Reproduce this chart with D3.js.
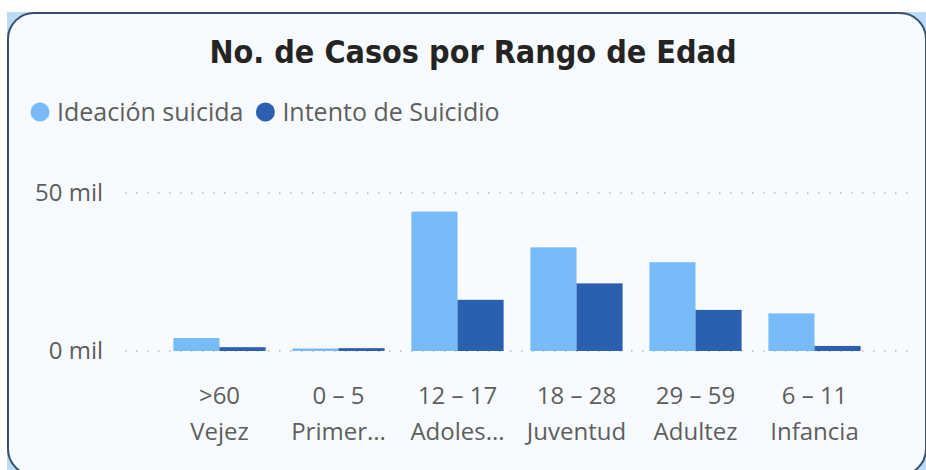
<!DOCTYPE html>
<html>
<head>
<meta charset="utf-8">
<script src="https://cdn.jsdelivr.net/npm/d3@7"></script>
<style>
  body { margin: 0; background: #ffffff; }
  svg { display: block; }
</style>
</head>
<body>
<div id="chart_div"></div>
<script>
// data
const categories = [">60|Vejez", "0 – 5|Primer...", "12 – 17|Adoles...", "18 – 28|Juventud", "29 – 59|Adultez", "6 – 11|Infancia"];
const seriesNames = ["Ideación suicida", "Intento de Suicidio"];
const ideacion = [4100, 800, 44100, 32800, 28100, 11900];
const intento = [1200, 900, 16200, 21400, 13000, 1600];
const yTicks = [0, 50000];
const colors = ["#77bcf8", "#2b5fb0"];

const W = 926, H = 470;
const margin = {top: 193, left: 160, right: 52, bottom: 119};
const labelFont = "'Open Sans', sans-serif";
const labelSize = "24px";

const svg = d3.select("#chart_div")
    .append("svg")
    .attr("width", W)
    .attr("height", H);

// backdrop + card
svg.append("rect")
    .attr("x", 7).attr("y", 12)
    .attr("width", W).attr("height", H)
    .attr("fill", "#bcdcf6");

svg.append("rect")
    .attr("x", 8).attr("y", 13)
    .attr("width", 918).attr("height", 462)
    .attr("rx", 26).attr("ry", 26)
    .attr("fill", "#f7fbff")
    .attr("stroke", "#34506f")
    .attr("stroke-width", 2);

svg.append("text")
    .attr("x", 473)
    .attr("y", 63)
    .attr("text-anchor", "middle")
    .style("font-family", "'DejaVu Sans Condensed', 'DejaVu Sans'")
    .style("font-weight", "bold")
    .style("font-size", "32px")
    .style("fill", "#252423")
    .text("No. de Casos por Rango de Edad");

// legend
const legend = svg.append("g")
    .attr("transform", "translate(40,112)");

let lx = 0;
seriesNames.forEach(function (name, i) {
    const g = legend.append("g").attr("transform", `translate(${lx},0)`);
    g.append("circle")
        .attr("r", 9.5)
        .attr("fill", colors[i]);
    const t = g.append("text")
        .attr("x", 17)
        .attr("dy", "0.35em")
        .style("font-family", labelFont)
        .style("font-size", "25px")
        .style("fill", "#605e5c")
        .text(name);
    lx += 17 + t.node().getComputedTextLength() + 22;
});

// scales
const x = d3.scaleBand()
    .domain(categories)
    .range([margin.left, W - margin.right])
    .paddingInner(0.225)
    .paddingOuter(0.1125);

const xSub = d3.scaleBand()
    .domain(seriesNames)
    .range([0, x.bandwidth()]);

const y = d3.scaleLinear()
    .domain([0, 50000])
    .range([351, 193]);

// grid
svg.append("g")
    .selectAll("line")
    .data(yTicks)
    .join("line")
    .attr("x1", 125)
    .attr("x2", 910)
    .attr("y1", d => y(d))
    .attr("y2", d => y(d))
    .attr("stroke", "#b8b8b8")
    .attr("stroke-width", 1.5)
    .attr("stroke-dasharray", "1.5,9.5");

const yAxis = svg.append("g")
    .attr("transform", "translate(103,0)")
    .call(d3.axisLeft(y).tickValues(yTicks).tickSize(0).tickPadding(0)
        .tickFormat(d => d3.format("d")(d / 1000) + " mil"));
yAxis.select(".domain").remove();
yAxis.selectAll("text")
    .style("font-family", labelFont)
    .style("font-size", labelSize)
    .style("fill", "#605e5c");

// bars
const rows = categories.map((c, i) => ({cat: c, values: [ideacion[i], intento[i]]}));

svg.append("g")
    .selectAll("g")
    .data(rows)
    .join("g")
    .attr("transform", d => `translate(${x(d.cat)},0)`)
    .selectAll("rect")
    .data(d => d.values.map((v, j) => ({key: seriesNames[j], value: v, j: j})))
    .join("rect")
    .attr("x", d => xSub(d.key))
    .attr("y", d => y(d.value))
    .attr("width", xSub.bandwidth())
    .attr("height", d => y(0) - y(d.value))
    .attr("fill", d => colors[d.j]);

// x axis, two-line labels
const xAxis = svg.append("g")
    .attr("transform", `translate(0,${y(0)})`)
    .call(d3.axisBottom(x).tickSize(0).tickFormat(""));
xAxis.select(".domain").remove();

xAxis.selectAll(".tick")
    .append("text")
    .style("font-family", labelFont)
    .style("font-size", labelSize)
    .style("fill", "#605e5c")
    .attr("text-anchor", "middle")
    .selectAll("tspan")
    .data(d => d.split("|"))
    .join("tspan")
    .attr("x", 0)
    .attr("y", (d, i) => 53 + i * 36)
    .text(d => d);
</script>
</body>
</html>
